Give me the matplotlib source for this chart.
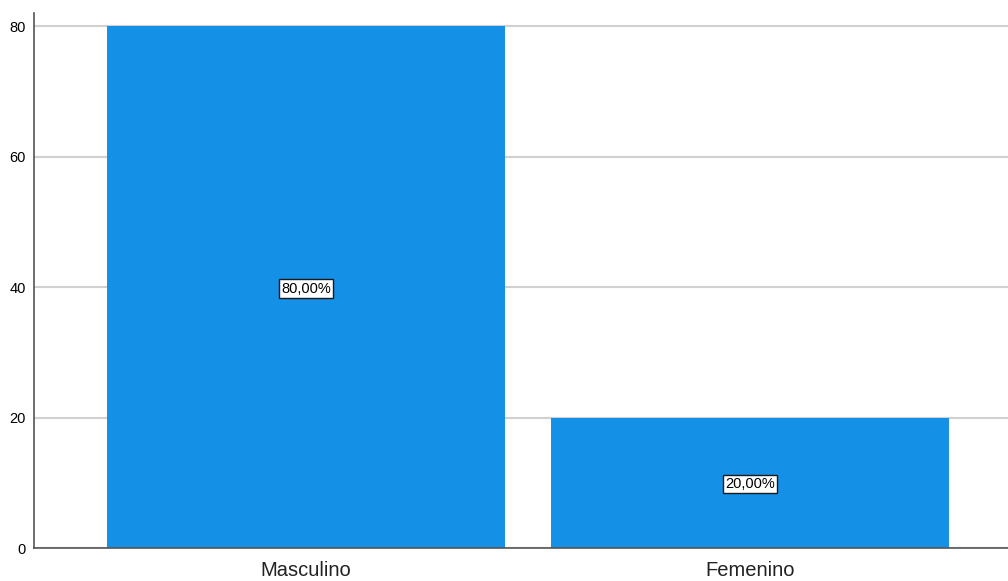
import matplotlib.pyplot as plt

plt.rcParams['font.family'] = ['Liberation Sans', 'DejaVu Sans']

categories = ["Masculino", "Femenino"]
percents = [80.0, 20.0]
yticks = [0, 20, 40, 60, 80]

fig = plt.figure(figsize=(10.08, 5.81), dpi=100)
ax = fig.add_axes([34 / 1008, 33 / 581, 974 / 1008, 535 / 581])

x = list(range(len(categories)))
ax.bar(x, percents, width=0.896, color="#1490e6", zorder=2)

# percentage labels in small white boxes at mid-height of each bar
for xi, p in zip(x, percents):
    ax.text(xi, p / 2, f"{p:.2f}%".replace(".", ","), ha="center", va="center_baseline",
            fontsize=10.5, color="black", zorder=3,
            bbox=dict(boxstyle="square,pad=0.15", fc="white", ec="#1a1a1a", lw=1))

ax.set_xlim(-0.6126, 1.581)
ax.set_ylim(0, 82)
ax.set_yticks(yticks)
ax.set_xticks(x)
ax.set_xticklabels(categories, fontsize=14.5, color="#222222")
ax.tick_params(axis="y", length=0, labelsize=10.5, pad=6)
ax.tick_params(axis="x", length=0, pad=9)
ax.yaxis.grid(True, color="#d0d0d0", lw=1.5, zorder=1)

for side in ("top", "right"):
    ax.spines[side].set_visible(False)
for side in ("left", "bottom"):
    ax.spines[side].set_color("#555555")
    ax.spines[side].set_linewidth(1.2)

fig.savefig("out.png", dpi=100)
